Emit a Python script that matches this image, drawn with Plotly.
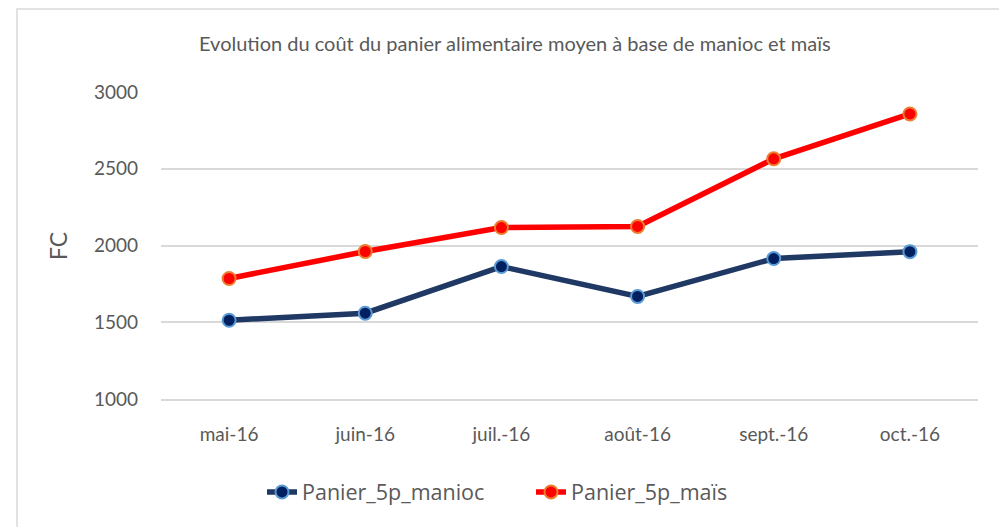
import plotly.graph_objects as go

months = ["mai-16", "juin-16", "juil.-16", "août-16", "sept.-16", "oct.-16"]
manioc = [1513, 1559, 1863, 1668, 1915, 1960]
mais = [1785, 1961, 2117, 2124, 2565, 2857]
yticks = [1000, 1500, 2000, 2500, 3000]

FONT = "Lato"
OFF = 8  # page body margin
fig = go.Figure()
fig.add_trace(go.Scatter(
    x=months, y=manioc, name="Panier_5p_manioc", mode="lines+markers",
    line=dict(color="#1f3864", width=5.5),
    marker=dict(size=13, color="#002060", line=dict(color="#5b9bd5", width=2)),
))
fig.add_trace(go.Scatter(
    x=months, y=mais, name="Panier_5p_maïs", mode="lines+markers",
    line=dict(color="#ff0000", width=5.5),
    marker=dict(size=13, color="#ff0000", line=dict(color="#ed7d31", width=2)),
))

FW, FH = 1007 - OFF, 527 - OFF
W, H = 817, 307
L, T = 161 - OFF, 92 - OFF
def px(x):
    return (x - OFF - L) / W
def py(y):
    return (T + H - (y - OFF)) / H

fig.update_layout(
    width=FW, height=FH,
    margin=dict(l=L, r=FW - L - W, t=T, b=FH - T - H),
    paper_bgcolor="white", plot_bgcolor="white",
    font=dict(family=FONT, color="#595959"),
    showlegend=True,
    legend=dict(orientation="h", x=px(531), xanchor="center", y=py(492), yanchor="middle",
                font=dict(size=21.5, color="#595959", family="Open Sans"),
                entrywidth=224, entrywidthmode="pixels"),
    shapes=[dict(type="rect", xref="paper", yref="paper",
                 x0=px(17), x1=px(1003), y0=py(560), y1=py(9),
                 line=dict(color="#d9d9d9", width=1.5), fillcolor="rgba(0,0,0,0)", layer="below")],
    annotations=[
        dict(text="Evolution du coût du panier alimentaire moyen à base de manioc et maïs",
             xref="paper", yref="paper", x=px(515), y=py(43), xanchor="center", yanchor="middle",
             showarrow=False, font=dict(size=20, color="#595959", family=FONT)),
        dict(text="FC", xref="paper", yref="paper", x=px(58), y=py(246), textangle=-90,
             xanchor="center", yanchor="middle", showarrow=False,
             font=dict(size=23, color="#595959", family=FONT)),
    ],
)
fig.update_xaxes(showgrid=False, showline=True, linecolor="#d9d9d9", linewidth=1.5,
                 ticks="", tickfont=dict(size=19, color="#595959"), ticklabelstandoff=17,
                 range=[-0.5, 5.5])
fig.update_yaxes(range=[1000, 3000], tickvals=yticks, showgrid=True, gridcolor="#d9d9d9",
                 gridwidth=1.5, zeroline=False, showline=False,
                 tickfont=dict(size=19, color="#595959"), ticklabelstandoff=22)

fig.write_html("out.html")
